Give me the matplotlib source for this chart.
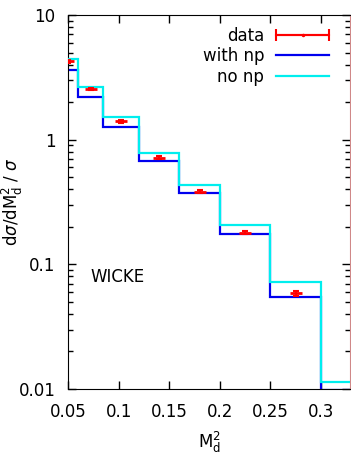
import numpy as np
import matplotlib
matplotlib.use('Agg')
import matplotlib.pyplot as plt
from matplotlib.legend_handler import HandlerErrorbar

# bin edges in M_d^2 and histogram heights
edges = [0.04, 0.06, 0.085, 0.12, 0.16, 0.20, 0.25, 0.30, 0.35]
with_np = [3.62, 2.18, 1.26, 0.673, 0.371, 0.175, 0.0547, 0.0099]
no_np = [4.41, 2.66, 1.51, 0.785, 0.432, 0.208, 0.0725, 0.0113]

# data points (bin centres)
data_x = [0.05, 0.0725, 0.1025, 0.14, 0.18, 0.225, 0.275]
data_y = [4.27, 2.55, 1.41, 0.716, 0.382, 0.179, 0.0585]
data_err = [0.12, 0.07, 0.04, 0.02, 0.011, 0.005, 0.0025]

plt.rcParams['font.family'] = 'DejaVu Sans'
plt.rcParams['font.size'] = 12
plt.rcParams['mathtext.fontset'] = 'dejavusans'

fig = plt.figure(figsize=(3.51, 4.55), dpi=100)
ax = fig.add_axes([68/351, 66/455, 282/351, 374/455])

ax.stairs(with_np, edges, baseline=None, color='#0000ee', lw=1.6, label='with np', zorder=2)
ax.stairs(no_np, edges, baseline=None, color='#00eeee', lw=1.6, label='no np', zorder=3)
ax.errorbar(data_x, data_y, yerr=data_err, fmt='none', ecolor='red',
            elinewidth=1.5, capsize=2.5, capthick=1.5, zorder=4)
ax.plot(data_x, data_y, ls='none', marker='_', ms=8, mew=2, color='red', zorder=4)

# legend proxy: horizontal error bar as in gnuplot key
proxy = ax.errorbar([np.nan], [np.nan], xerr=[np.nan], color='red', marker='.',
                    ms=3, elinewidth=1.5, capsize=4, capthick=1.5, label='data')

h, l = ax.get_legend_handles_labels()
order = [l.index('data'), l.index('with np'), l.index('no np')]
leg = ax.legend([h[i] for i in order], [l[i] for i in order], loc='upper right',
                frameon=False, markerfirst=False, handlelength=3.2,
                labelspacing=0.15, handletextpad=0.7, borderaxespad=0.3,
                bbox_to_anchor=(0.968, 1.0),
                handler_map={proxy: HandlerErrorbar(xerr_size=1.6)})

ax.set_yscale('log')
ax.set_xlim(0.05, 0.3287)
ax.set_ylim(0.01, 10)
ax.set_xticks([0.05, 0.1, 0.15, 0.2, 0.25, 0.3])
ax.set_xticklabels(['0.05', '0.1', '0.15', '0.2', '0.25', '0.3'])
ax.set_yticks([0.01, 0.1, 1, 10])
ax.set_yticklabels(['0.01', '0.1', '1', '10'])
ax.minorticks_off()
ax.yaxis.set_minor_locator(matplotlib.ticker.LogLocator(base=10, subs=np.arange(2, 10)))
ax.yaxis.set_minor_formatter(matplotlib.ticker.NullFormatter())
ax.tick_params(which='both', direction='in', top=True, right=True, width=1)
ax.tick_params(which='major', length=6)
ax.tick_params(which='minor', length=3.5)
ax.tick_params(axis='x', which='major', pad=10)
ax.tick_params(axis='y', which='major', pad=9)
ax.spines['right'].set_color('#d08888')

ax.text(0.078, 0.30, 'WICKE', transform=ax.transAxes, fontsize=12, va='center')

ax.set_xlabel(r'M$_\mathrm{d}^2$')
ax.xaxis.set_label_coords(0.5, -0.11)
ax.set_ylabel(r'd$\sigma$/dM$_\mathrm{d}^2$ / $\sigma$')
ax.yaxis.set_label_coords(-0.152, 0.5)

fig.savefig('out.png', dpi=100)
